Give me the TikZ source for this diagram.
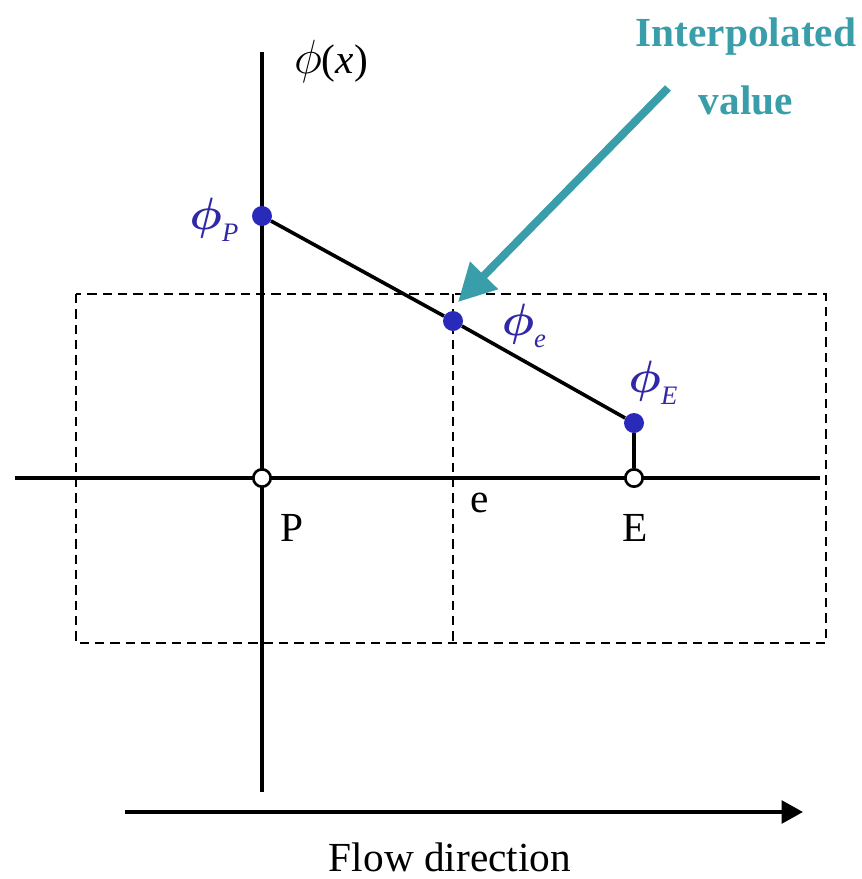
\RequirePackage{fix-cm}
\documentclass[tikz,border=0pt]{standalone}
\usepackage{amsmath}
\usepackage{fontspec}
\setmainfont{Liberation Serif}
\usetikzlibrary{arrows.meta}
\definecolor{tealc}{RGB}{58,158,170}
\definecolor{dotblue}{RGB}{42,42,186}
\definecolor{lblblue}{RGB}{48,40,165}
\newcommand{\bigphi}[1]{{\fontsize{#1}{#1}\selectfont$\phi$}}
\newcommand{\phisub}[1]{{\fontsize{34}{34}\selectfont$\boldsymbol{\phi}$}\raisebox{-0.3em}{\fontsize{20}{22}\selectfont\textit{#1}}}
\tikzset{
  axis/.style={line width=2.7pt, black},
  dashbox/.style={line width=1.8pt, dash pattern=on 7pt off 4.5pt},
  fdot/.style={circle, fill=dotblue, inner sep=0pt, minimum size=15pt},
  odot/.style={circle, draw=black, fill=white, line width=2pt, inner sep=0pt, minimum size=13pt},
  philbl/.style={text=lblblue, inner sep=0pt, font=\fontsize{30}{34}\selectfont},
  txt/.style={inner sep=0pt, anchor=base, font=\fontsize{31}{36}\selectfont},
  ttl/.style={text=tealc, inner sep=0pt, anchor=base, font=\fontsize{31}{36}\selectfont\bfseries}
}
\begin{document}
\begin{tikzpicture}[x=0.75pt, y=-0.75pt]
\useasboundingbox (0,0) rectangle (862,879);
% dashed control volumes
\draw[dashbox] (76,294) rectangle (826,643);
\draw[dashbox] (453,294) -- (453,643);
% axes
\draw[axis] (262,52) -- (262,792);
\draw[axis] (15,478) -- (820,478);
% nodes
\node[fdot] (pP) at (262,216) {};
\node[fdot] (pe) at (453,321) {};
\node[fdot] (pE) at (634,423) {};
\node[odot] (P) at (262,478) {};
\node[odot] (E) at (634,478) {};
\draw[axis] (pP) -- (pe);
\draw[axis] (pe) -- (pE);
\draw[axis] (pE) -- (E);
% labels
\node[txt] (phix) at (331,73) {\bigphi{36}(\textit{x})};
\node[philbl] (lP) at (214,220) {\phisub{P}};
\node[philbl] (le) at (524,326) {\phisub{e}};
\node[philbl] (lE) at (653,383) {\phisub{E}};
\node[txt] (Plbl) at (292,541) {P};
\node[txt] (elbl) at (480,512) {e};
\node[txt] (Elbl) at (635,541) {E};
% interpolated value
\node[ttl] (interp) at (746,46) {Interpolated};
\node[ttl] (val) at (746,114) {value};
\coordinate (ta) at (668,88);
\coordinate (tb) at (458,302);
\draw[line width=6pt, tealc, -{Triangle[length=28pt, width=28pt]}] (ta) -- (tb);
% flow direction
\coordinate (fa) at (125,812);
\coordinate (fb) at (803,812);
\draw[line width=2.7pt, -{Triangle[length=16pt, width=17pt]}] (fa) -- (fb);
\node[txt] (flow) at (450,871) {Flow direction};
\end{tikzpicture}
\end{document}
